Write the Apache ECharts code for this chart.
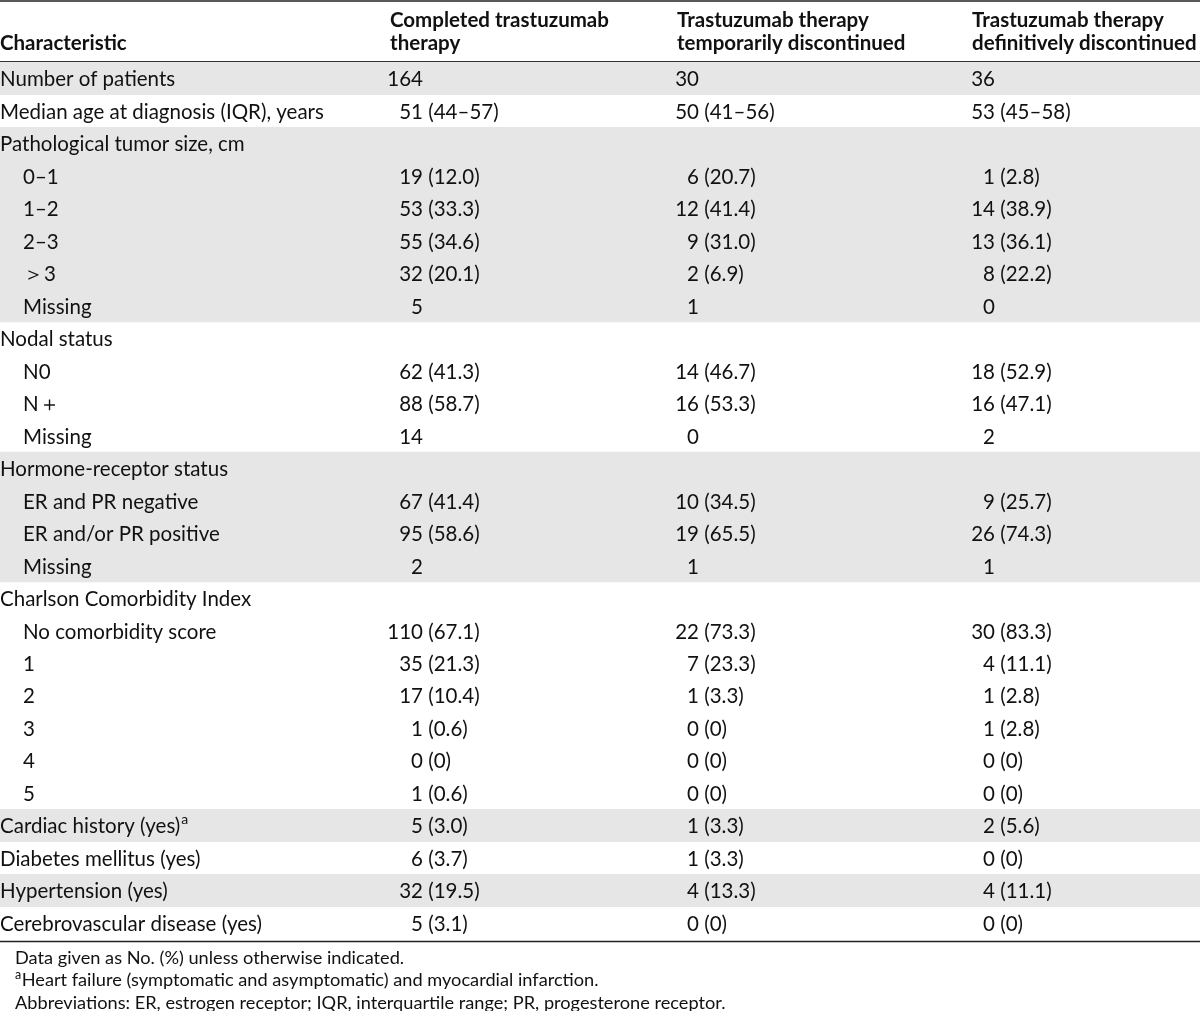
<!DOCTYPE html>
<html><head><meta charset="utf-8">
<script src="https://cdn.jsdelivr.net/npm/echarts@6/dist/echarts.min.js"></script>
<style>html,body{margin:0;padding:0;background:#fff}#c{width:1200px;height:1011px}</style>
</head><body><div id="c"></div><script>
// ---------- data ----------
const characteristics = ['Number of patients','Median age at diagnosis (IQR), years','Pathological tumor size, cm','0–1','1–2','2–3','＞3','Missing','Nodal status','N0','N＋','Missing','Hormone-receptor status','ER and PR negative','ER and/or PR positive','Missing','Charlson Comorbidity Index','No comorbidity score','1','2','3','4','5','Cardiac history (yes)','Diabetes mellitus (yes)','Hypertension (yes)','Cerebrovascular disease (yes)'];
const isSubRow = [0,0,0,1,1,1,1,1,0,1,1,1,0,1,1,1,0,1,1,1,1,1,1,0,0,0,0];
const footnoteMark = ['','','','','','','','','','','','','','','','','','','','','','','','a','','',''];
const shadedRow = [1,0,1,1,1,1,1,1,0,0,0,0,1,1,1,1,0,0,0,0,0,0,0,1,0,1,0];
const columnHeaders = [['Completed trastuzumab','therapy'],['Trastuzumab therapy','temporarily discontinued'],['Trastuzumab therapy','definitively discontinued']];
const completed = ['164','51 (44–57)','','19 (12.0)','53 (33.3)','55 (34.6)','32 (20.1)','5','','62 (41.3)','88 (58.7)','14','','67 (41.4)','95 (58.6)','2','','110 (67.1)','35 (21.3)','17 (10.4)','1 (0.6)','0 (0)','1 (0.6)','5 (3.0)','6 (3.7)','32 (19.5)','5 (3.1)'];
const tempDiscontinued = ['30','50 (41–56)','','6 (20.7)','12 (41.4)','9 (31.0)','2 (6.9)','1','','14 (46.7)','16 (53.3)','0','','10 (34.5)','19 (65.5)','1','','22 (73.3)','7 (23.3)','1 (3.3)','0 (0)','0 (0)','0 (0)','1 (3.3)','1 (3.3)','4 (13.3)','0 (0)'];
const defDiscontinued = ['36','53 (45–58)','','1 (2.8)','14 (38.9)','13 (36.1)','8 (22.2)','0','','18 (52.9)','16 (47.1)','2','','9 (25.7)','26 (74.3)','1','','30 (83.3)','4 (11.1)','1 (2.8)','1 (2.8)','0 (0)','0 (0)','2 (5.6)','0 (0)','4 (11.1)','0 (0)'];
const footnotes = [['','Data given as No. (%) unless otherwise indicated.'],['a','Heart failure (symptomatic and asymptomatic) and myocardial infarction.'],['','Abbreviations: ER, estrogen receptor; IQR, interquartile range; PR, progesterone receptor.']];

// ---------- layout ----------
const FONT = 'Lato';
const FS = 20.5;
const FS_NOTE = 18.2;
const TXT = '#111';
const DY = 1.5;                      // baseline nudge for Lato
const labelX = [0, 23];              // top-level / indented label start
const countAnchor = [423, 699, 995]; // right edge of counts per value column
const headerX = [390, 677, 972];

const valueCols = [completed, tempDiscontinued, defDiscontinued];
const cells = [];
characteristics.forEach((lab, r) => {
  cells.push({x: labelX[isSubRow[r]], row: r, kind: 'label', a: lab, b: footnoteMark[r]});
  valueCols.forEach((col, c) => {
    const v = col[r];
    if (!v) return;
    const i = v.indexOf(' ');
    cells.push({x: countAnchor[c], row: r, kind: 'value', a: i < 0 ? v : v.slice(0, i), b: i < 0 ? '' : v.slice(i)});
  });
});
const shadeData = [];
shadedRow.forEach((s, r) => { if (s) shadeData.push([0, r]); });

const font = (w, s) => `${w || 'normal'} ${s || FS}px ${FONT}`;
const measureCtx = document.createElement('canvas').getContext('2d');
const textWidth = (t, f) => { measureCtx.font = f; return measureCtx.measureText(t).width; };

const chart = echarts.init(document.getElementById('c'), null, {renderer: 'canvas'});

const graphics = [
  {type: 'line', shape: {x1: 0, y1: 1, x2: 1200, y2: 1}, style: {stroke: '#222', lineWidth: 1.5}},
  {type: 'line', shape: {x1: 0, y1: 62, x2: 1200, y2: 62}, style: {stroke: '#333', lineWidth: 1.8}},
  {type: 'line', shape: {x1: 0, y1: 941.5, x2: 1200, y2: 941.5}, style: {stroke: '#222', lineWidth: 1.5}},
  {type: 'text', x: 0, y: 42 + DY, style: {text: 'Characteristic', font: font('bold'), fill: TXT, verticalAlign: 'middle'}}
];
columnHeaders.forEach((h, c) => {
  h.forEach((line, k) => {
    graphics.push({type: 'text', x: headerX[c], y: 19 + DY + k * 23, style: {text: line, font: font('bold'), fill: TXT, verticalAlign: 'middle'}});
  });
});
footnotes.forEach((f, k) => {
  const y = 958 + k * 22.5;
  if (f[0]) {
    graphics.push({type: 'text', x: 15, y: y - 6, style: {text: f[0], font: `12.5px ${FONT}`, fill: TXT, verticalAlign: 'middle'}});
  }
  graphics.push({type: 'text', x: 15 + (f[0] ? textWidth(f[0], `12.5px ${FONT}`) + 0.5 : 0), y, style: {
    text: f[1], font: font('normal', FS_NOTE), fill: TXT, verticalAlign: 'middle'
  }});
});

chart.setOption({
  animation: false,
  grid: {left: 0, right: 0, top: 62, bottom: 72},
  xAxis: {type: 'value', min: 0, max: 1200, show: false},
  yAxis: {type: 'category', data: characteristics.map((_, i) => i), inverse: true, show: false},
  graphic: graphics,
  series: [
    {
      type: 'custom', silent: true, data: shadeData, z: 1,
      renderItem: (params, api) => {
        const p = api.coord([0, api.value(1)]);
        const h = api.size([0, 1])[1];
        return {type: 'rect', shape: {x: 0, y: p[1] - h / 2, width: 1200, height: h + 0.5}, style: {fill: '#e6e6e6'}};
      }
    },
    {
      type: 'custom', silent: true, z: 2,
      data: cells.map(c => [c.x, c.row]),
      renderItem: (params, api) => {
        const c = cells[params.dataIndex];
        const p = api.coord([api.value(0), api.value(1)]);
        const y = p[1] + DY;
        if (c.kind === 'label') {
          const children = [{type: 'text', x: p[0], y, style: {text: c.a, font: font(), fill: TXT, align: 'left', verticalAlign: 'middle'}}];
          if (c.b) children.push({type: 'text', x: p[0] + textWidth(c.a, font()) + 1, y: y - 7, style: {text: c.b, font: `14px ${FONT}`, fill: TXT, align: 'left', verticalAlign: 'middle'}});
          return {type: 'group', children};
        }
        const children = [{type: 'text', x: p[0], y, style: {text: c.a, font: font(), fill: TXT, align: 'right', verticalAlign: 'middle'}}];
        if (c.b) children.push({type: 'text', x: p[0], y, style: {text: c.b, font: font(), fill: TXT, align: 'left', verticalAlign: 'middle'}});
        return {type: 'group', children};
      }
    }
  ]
});
</script></body></html>
